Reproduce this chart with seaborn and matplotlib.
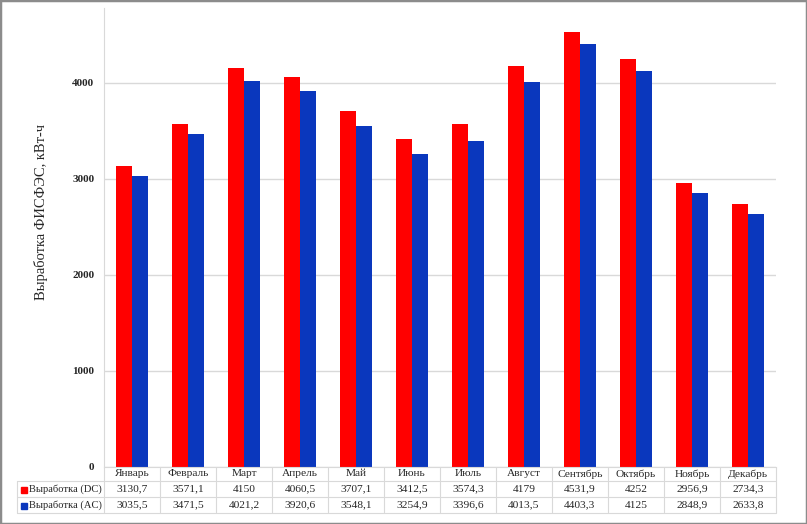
import seaborn as sns
import matplotlib.pyplot as plt
import pandas as pd
from matplotlib.transforms import blended_transform_factory
from matplotlib.patches import Rectangle

months = ['Январь', 'Февраль', 'Март', 'Апрель', 'Май', 'Июнь',
          'Июль', 'Август', 'Сентябрь', 'Октябрь', 'Ноябрь', 'Декабрь']
dc = [3130.7, 3571.1, 4150, 4060.5, 3707.1, 3412.5,
      3574.3, 4179, 4531.9, 4252, 2956.9, 2734.3]
ac = [3035.5, 3471.5, 4021.2, 3920.6, 3548.1, 3254.9,
      3396.6, 4013.5, 4403.3, 4125, 2848.9, 2633.8]
series = ['Выработка (DC)', 'Выработка (AC)']
colors = ['#ff0000', '#0a37bd']
yticks = [0, 1000, 2000, 3000, 4000]

df = pd.DataFrame({
    'month': months * 2,
    'value': dc + ac,
    'series': [series[0]] * 12 + [series[1]] * 12,
})

sns.set_style('white')
plt.rcParams['font.family'] = ['Liberation Serif', 'DejaVu Serif']

W, H = 807, 524
fig = plt.figure(figsize=(W / 100, H / 100), dpi=100)
ax = fig.add_axes([104 / W, 1 - 467 / H, (776 - 104) / W, (467 - 8) / H])

sns.barplot(data=df, x='month', y='value', hue='series', palette=colors,
            width=0.58, gap=0, saturation=1, ax=ax, legend=False,
            edgecolor='none')

ax.set_xlim(-0.5, 11.5)
ax.set_ylim(0, 4780)
ax.set_yticks(yticks)
ax.set_yticklabels([str(t) for t in yticks], fontsize=8, fontweight='bold')
ax.tick_params(axis='y', length=0, pad=7)
ax.set_xticks([])
ax.set_xlabel('')
ax.set_ylabel('')
ax.yaxis.grid(True, color='#d9d9d9', linewidth=1)
ax.set_axisbelow(True)
for s in ['top', 'right']:
    ax.spines[s].set_visible(False)
ax.spines['left'].set_color('#d9d9d9')
ax.spines['bottom'].set_color('#d9d9d9')

fig.text(41 / W, 1 - 212 / H, 'Выработка ФИСФЭС, кВт-ч', rotation=90,
         ha='center', va='center', fontsize=10.5)

# data table below the axis
tr = blended_transform_factory(ax.transData, fig.transFigure)
def fy(py):
    return 1 - py / H

grid_c = '#d9d9d9'
for i in range(13):
    ax.plot([i - 0.5, i - 0.5], [fy(467), fy(513)], transform=tr,
            color=grid_c, lw=0.8, clip_on=False)
for py in [481, 497, 513]:
    fig.add_artist(plt.Line2D([17 / W, 776 / W], [fy(py), fy(py)],
                              color=grid_c, lw=0.8))
fig.add_artist(plt.Line2D([17 / W, 17 / W], [fy(481), fy(513)],
                          color=grid_c, lw=0.8))

fs = 8.2
row_y = [474, 489, 505]
for i, m in enumerate(months):
    ax.text(i, fy(row_y[0]), m, transform=tr, ha='center', va='center',
            fontsize=fs)
    ax.text(i, fy(row_y[1]), f'{dc[i]:g}'.replace('.', ','), transform=tr,
            ha='center', va='center', fontsize=fs)
    ax.text(i, fy(row_y[2]), f'{ac[i]:g}'.replace('.', ','), transform=tr,
            ha='center', va='center', fontsize=fs)

for k, (name, c) in enumerate(zip(series, colors)):
    py = row_y[k + 1]
    fig.add_artist(Rectangle((21 / W, fy(py + 3.5)), 6 / W, 6 / H,
                             color=c, transform=fig.transFigure))
    fig.text(29 / W, fy(py), name, ha='left', va='center', fontsize=7.6)

# outer frame
fig.add_artist(Rectangle((0, 0), 1, 1, transform=fig.transFigure,
                         fill=False, edgecolor='#8c8c8c', lw=2.5))

fig.savefig('out.png', dpi=100)
